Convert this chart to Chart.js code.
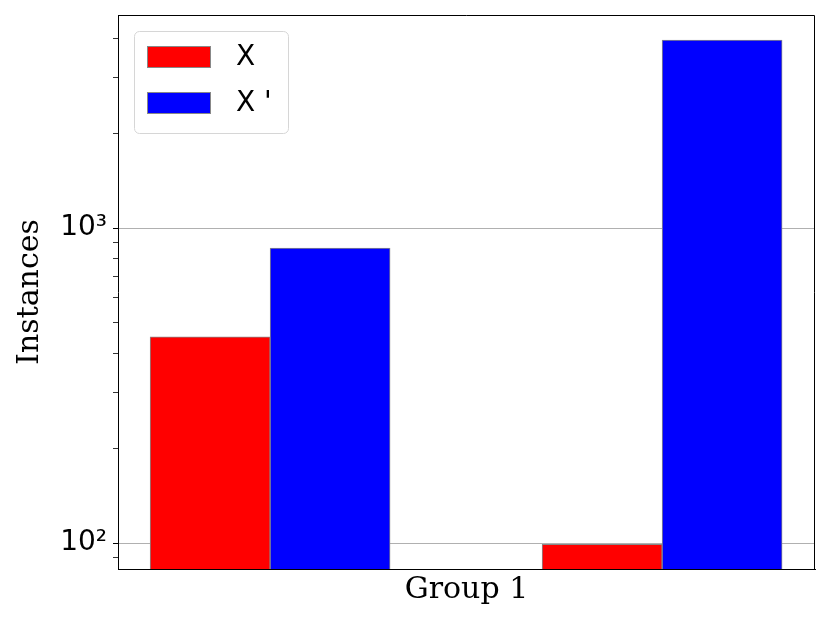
<!DOCTYPE html>
<html>
<head>
<meta charset="utf-8">
<script src="https://cdn.jsdelivr.net/npm/chart.js@4/dist/chart.umd.min.js"></script>
<style>
  html, body { margin: 0; padding: 0; background: #fff; }
  #wrap { width: 830px; height: 623px; }
</style>
</head>
<body>
<div id="wrap"><canvas id="barChart"></canvas></div>
<script>
// 数据
const xPositions = [0, 1];
const seriesNames = ['X', "X '"];
const valuesX = [451, 99];
const valuesXPrime = [864, 3950];
const xAxisLabel = 'Group 1';
const yAxisLabel = 'Instances';
const majorTickLabels = { 100: '10\u00B2', 1000: '10\u00B3' };

const seriesColors = ['#ff0000', '#0000ff'];

function toPoints(values) {
    return xPositions.map((x, i) => ({ x: x, y: values[i] }));
}

function isMajor(v) {
    const e = Math.log10(v);
    return Math.abs(e - Math.round(e)) < 1e-9;
}

// 上/右边框 + 图例
const framePlugin = {
    id: 'frame',
    afterDraw(chart) {
        const { ctx, chartArea: a } = chart;
        ctx.save();
        ctx.strokeStyle = '#000';
        ctx.lineWidth = 1;
        ctx.beginPath();
        ctx.moveTo(a.left, a.top + 0.5);
        ctx.lineTo(a.right - 0.5, a.top + 0.5);
        ctx.lineTo(a.right - 0.5, a.bottom);
        ctx.stroke();

        // legend box
        const lx = a.left + 16, ly = a.top + 16, lw = 154, lh = 102;
        ctx.beginPath();
        ctx.roundRect(lx + 0.5, ly + 0.5, lw, lh, 5);
        ctx.fillStyle = 'rgba(255,255,255,0.8)';
        ctx.fill();
        ctx.strokeStyle = '#d6d6d6';
        ctx.stroke();

        chart.data.datasets.forEach((ds, i) => {
            const y = ly + 15 + i * 46;
            ctx.fillStyle = ds.backgroundColor;
            ctx.fillRect(lx + 13, y, 64, 22);
            ctx.strokeStyle = '#888';
            ctx.lineWidth = 1;
            ctx.strokeRect(lx + 13.5, y + 0.5, 63, 21);
            ctx.fillStyle = '#000';
            ctx.font = '28px "DejaVu Sans"';
            ctx.textBaseline = 'middle';
            ctx.textAlign = 'left';
            ctx.fillText(ds.label, lx + 102, y + 12);
        });
        ctx.restore();
    }
};

document.addEventListener('DOMContentLoaded', function() {
    const ctx = document.getElementById('barChart').getContext('2d');
    new Chart(ctx, {
        type: 'bar',
        data: {
            datasets: [{
                label: seriesNames[0],
                data: toPoints(valuesX),
                backgroundColor: seriesColors[0],
                borderColor: '#888',
                borderWidth: 1
            }, {
                label: seriesNames[1],
                data: toPoints(valuesXPrime),
                backgroundColor: seriesColors[1],
                borderColor: '#888',
                borderWidth: 1
            }]
        },
        options: {
            responsive: true,
            maintainAspectRatio: false,
            animation: false,
            barThickness: 120,
            layout: { padding: { top: 15, right: 15, left: 0, bottom: 0 } },
            plugins: {
                legend: { display: false },
                tooltip: { enabled: false }
            },
            scales: {
                x: {
                    type: 'linear',
                    offset: false,
                    min: -0.388,
                    max: 1.39,
                    ticks: { display: false },
                    grid: { display: false, offset: false },
                    border: { color: '#000', width: 1 },
                    title: {
                        display: true,
                        text: xAxisLabel,
                        color: '#000',
                        font: { family: '"DejaVu Serif"', size: 30 },
                        padding: { top: 0, bottom: 15 }
                    },
                    afterFit(scale) {
                        scale.height = 54;
                        scale.paddingLeft = 0;
                        scale.paddingRight = 0;
                    }
                },
                y: {
                    type: 'logarithmic',
                    min: 82.7,
                    max: 4745,
                    z: 1,
                    afterBuildTicks(scale) {
                        scale.ticks = scale.ticks.filter(t => {
                            const e = Math.floor(Math.log10(t.value) + 1e-9);
                            const s = t.value / Math.pow(10, e);
                            return Math.abs(s - Math.round(s)) < 1e-6;
                        });
                    },
                    ticks: {
                        autoSkip: false,
                        color: '#000',
                        padding: 6,
                        font: { family: '"DejaVu Sans"', size: 28 },
                        callback: function(value) {
                            return majorTickLabels[Math.round(value)] || '';
                        }
                    },
                    grid: {
                        color: c => (c.tick && isMajor(c.tick.value)) ? '#b0b0b0' : 'rgba(0,0,0,0)',
                        tickColor: '#000',
                        tickLength: 5,
                        tickWidth: c => (c.tick && isMajor(c.tick.value)) ? 1 : 0.8
                    },
                    border: { color: '#000', width: 1 },
                    title: {
                        display: true,
                        text: yAxisLabel,
                        color: '#000',
                        font: { family: '"DejaVu Serif"', size: 30 },
                        padding: { top: 12, bottom: 0 }
                    },
                    afterFit(scale) {
                        scale.width = 118;
                        scale.paddingTop = 0;
                        scale.paddingBottom = 0;
                    }
                }
            }
        },
        plugins: [framePlugin]
    });
});
</script>
</body>
</html>
